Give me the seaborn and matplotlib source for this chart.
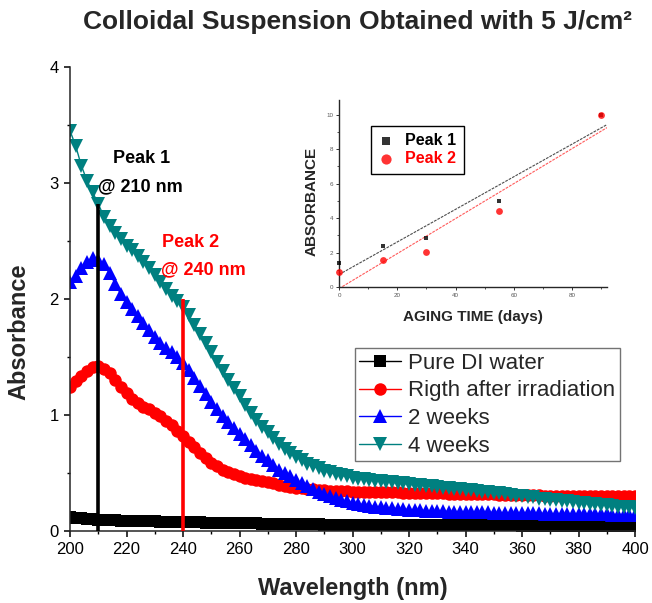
import numpy as np
import matplotlib
matplotlib.use("Agg")
import matplotlib.pyplot as plt
import seaborn as sns
from matplotlib.ticker import MultipleLocator

# ---------------- data ----------------
wavelength = np.arange(200, 401, 2)

di_water = [
    0.12, 0.115, 0.11, 0.105, 0.10, 0.098, 0.096, 0.094, 0.092, 0.09,
    0.088, 0.086, 0.085, 0.084, 0.083, 0.082, 0.081, 0.08, 0.079, 0.078,
    0.077, 0.076, 0.075, 0.074, 0.073, 0.072, 0.071, 0.07, 0.07, 0.069,
    0.068, 0.067, 0.066, 0.065, 0.064, 0.063, 0.062, 0.061, 0.06, 0.06,
    0.059, 0.058, 0.058, 0.057, 0.057, 0.056, 0.056, 0.055, 0.055, 0.054,
    0.054, 0.053, 0.053, 0.053, 0.052, 0.052, 0.052, 0.051, 0.051, 0.051,
    0.05, 0.05, 0.05, 0.05, 0.05, 0.049, 0.049, 0.049, 0.049, 0.049,
    0.048, 0.048, 0.048, 0.048, 0.048, 0.048, 0.048, 0.048, 0.048, 0.048,
    0.047, 0.047, 0.047, 0.047, 0.047, 0.047, 0.047, 0.047, 0.047, 0.047,
    0.046, 0.046, 0.046, 0.046, 0.046, 0.046, 0.046, 0.046, 0.046, 0.046,
    0.045,
]

after_irradiation = [
    1.24, 1.29, 1.34, 1.38, 1.41, 1.42, 1.40, 1.36, 1.30, 1.24,
    1.19, 1.14, 1.10, 1.07, 1.05, 1.02, 0.99, 0.95, 0.91, 0.86,
    0.82, 0.77, 0.72, 0.67, 0.63, 0.59, 0.56, 0.53, 0.51, 0.49,
    0.475, 0.46, 0.45, 0.44, 0.43, 0.42, 0.41, 0.40, 0.39, 0.38,
    0.375, 0.37, 0.365, 0.36, 0.355, 0.35, 0.348, 0.346, 0.344, 0.342,
    0.34, 0.339, 0.338, 0.337, 0.336, 0.335, 0.334, 0.333, 0.332, 0.331,
    0.33, 0.329, 0.328, 0.327, 0.326, 0.325, 0.324, 0.323, 0.322, 0.321,
    0.32, 0.319, 0.318, 0.317, 0.316, 0.315, 0.314, 0.313, 0.312, 0.311,
    0.31, 0.309, 0.308, 0.307, 0.306, 0.305, 0.304, 0.303, 0.302, 0.301,
    0.30, 0.30, 0.30, 0.30, 0.30, 0.30, 0.30, 0.30, 0.30, 0.30,
    0.30,
]

two_weeks = [
    2.15, 2.20, 2.27, 2.32, 2.35, 2.34, 2.30, 2.22, 2.13, 2.04,
    1.97, 1.91, 1.85, 1.79, 1.73, 1.67, 1.62, 1.58, 1.54, 1.50,
    1.45, 1.39, 1.32, 1.25, 1.18, 1.11, 1.05, 0.99, 0.94, 0.89,
    0.84, 0.79, 0.74, 0.69, 0.65, 0.61, 0.57, 0.53, 0.50, 0.47,
    0.44, 0.41, 0.385, 0.36, 0.34, 0.32, 0.30, 0.285, 0.27, 0.255,
    0.245, 0.235, 0.225, 0.218, 0.21, 0.205, 0.20, 0.195, 0.19, 0.187,
    0.184, 0.181, 0.178, 0.176, 0.174, 0.172, 0.17, 0.168, 0.166, 0.165,
    0.164, 0.163, 0.162, 0.161, 0.16, 0.159, 0.158, 0.157, 0.156, 0.155,
    0.154, 0.153, 0.152, 0.151, 0.15, 0.149, 0.148, 0.147, 0.146, 0.146,
    0.145, 0.145, 0.144, 0.144, 0.143, 0.143, 0.142, 0.142, 0.141, 0.141,
    0.14,
]

four_weeks = [
    3.45, 3.32, 3.15, 3.02, 2.92, 2.82, 2.71, 2.63, 2.57, 2.52,
    2.46, 2.42, 2.37, 2.32, 2.27, 2.21, 2.15, 2.09, 2.03, 1.98,
    1.93, 1.86, 1.78, 1.70, 1.62, 1.54, 1.46, 1.38, 1.30, 1.23,
    1.16, 1.09, 1.02, 0.96, 0.90, 0.85, 0.80, 0.75, 0.71, 0.67,
    0.64, 0.61, 0.58, 0.56, 0.54, 0.52, 0.505, 0.49, 0.48, 0.47,
    0.46, 0.45, 0.445, 0.44, 0.435, 0.43, 0.425, 0.42, 0.415, 0.41,
    0.405, 0.40, 0.395, 0.39, 0.385, 0.38, 0.375, 0.37, 0.365, 0.36,
    0.355, 0.35, 0.345, 0.34, 0.335, 0.33, 0.325, 0.32, 0.31, 0.305,
    0.30, 0.295, 0.29, 0.28, 0.275, 0.27, 0.265, 0.26, 0.255, 0.25,
    0.245, 0.24, 0.235, 0.23, 0.225, 0.22, 0.215, 0.21, 0.21, 0.205,
    0.20,
]

series_names = ["Pure DI water", "Rigth after irradiation", "2 weeks", "4 weeks"]
series_values = [di_water, after_irradiation, two_weeks, four_weeks]
series_colors = ["#000000", "#ff0000", "#0000ff", "#008080"]
series_markers = ["s", "o", "^", "v"]

peak_wavelengths = [210, 240]
peak_heights = [2.82, 2.0]
peak_colors = ["black", "red"]
peak_titles = ["Peak 1", "Peak 2"]
peak_subtitles = ["@ 210 nm", "@ 240 nm"]

aging_days = [0, 15, 30, 55, 90]
peak1_abs = [1.37, 2.39, 2.82, 5.0, 10.0]
peak2_abs = [0.85, 1.57, 2.01, 4.4, 10.0]

# ---------------- style ----------------
sns.set_style("ticks")
plt.rcParams["font.family"] = ["Liberation Sans", "DejaVu Sans"]
plt.rcParams["axes.linewidth"] = 1.1

fig = plt.figure(figsize=(6.52, 6.03), dpi=100)
ax = fig.add_axes([0.1074, 0.1194, 0.8666, 0.7695])

marker_sizes = {"s": 8.5, "o": 9, "^": 10, "v": 10}
for name, vals, col, mk in zip(series_names, series_values, series_colors, series_markers):
    sns.lineplot(x=wavelength, y=vals, color=col, marker=mk, markersize=marker_sizes[mk],
                 markeredgewidth=0, linewidth=1.0, label=name, ax=ax,
                 estimator=None, sort=False)

for wl, h, c in zip(peak_wavelengths, peak_heights, peak_colors):
    ax.vlines(wl, 0, h, color=c, lw=2.6, zorder=5)

ax.text(215.2, 3.21, peak_titles[0], color="black", fontsize=13, fontweight="bold",
        ha="left", va="center")
ax.text(209.9, 2.97, peak_subtitles[0], color="black", fontsize=13, fontweight="bold",
        ha="left", va="center")
ax.text(232.6, 2.49, peak_titles[1], color="red", fontsize=13, fontweight="bold",
        ha="left", va="center")
ax.text(232.2, 2.25, peak_subtitles[1], color="red", fontsize=13, fontweight="bold",
        ha="left", va="center")

ax.set_xlim(200, 400)
ax.set_ylim(0, 4)
ax.xaxis.set_major_locator(MultipleLocator(20))
ax.xaxis.set_minor_locator(MultipleLocator(10))
ax.yaxis.set_major_locator(MultipleLocator(1))
ax.yaxis.set_minor_locator(MultipleLocator(0.5))
ax.tick_params(which="major", direction="out", length=4.5, width=1.1, labelsize=12,
               color="black", labelcolor="black")
ax.tick_params(which="minor", direction="out", length=2.5, width=1.0, color="black")
sns.despine(ax=ax)

ax.set_xlabel("Wavelength (nm)", fontsize=17, fontweight="bold")
ax.set_ylabel("Absorbance", fontsize=17, fontweight="bold")
ax.xaxis.set_label_coords(0.5, -0.123)
ax.xaxis.label.set_va("center")
ax.yaxis.set_label_coords(-0.091, 0.43)
ax.yaxis.label.set_va("center")

handles, labels = ax.get_legend_handles_labels()
leg = ax.legend(handles, labels, loc="upper left", bbox_to_anchor=(0.504, 0.394),
                borderaxespad=0, fontsize=16, frameon=True, fancybox=False,
                edgecolor="0.45", framealpha=1, labelspacing=0.3, borderpad=0.2,
                handlelength=1.9, handletextpad=0.3, markerscale=1.0)
leg.get_frame().set_linewidth(1.0)

fig.text(0.548, 0.963, "Colloidal Suspension Obtained with 5 J/cm²", ha="center",
         va="center", fontsize=19, fontweight="bold")

# ---------------- inset ----------------
ax_in = fig.add_axes([0.52, 0.524, 0.411, 0.31])
ax_in.set_xlim(0, 92)
ax_in.set_ylim(0, 10.84)
sns.regplot(x=aging_days, y=peak1_abs, ax=ax_in, ci=None, truncate=False,
            marker="s", color="black", label="Peak 1",
            scatter_kws={"s": 12, "linewidths": 0, "clip_on": False, "zorder": 4},
            line_kws={"color": "0.3", "lw": 0.8, "ls": (0, (2.5, 1))})
sns.regplot(x=aging_days, y=peak2_abs, ax=ax_in, ci=None, truncate=False,
            marker="o", color="red", label="Peak 2",
            scatter_kws={"s": 24, "linewidths": 0, "clip_on": False, "zorder": 5},
            line_kws={"color": "#ff5a5a", "lw": 0.8, "ls": (0, (2.5, 1))})
ax_in.set_xlim(0, 92)
ax_in.set_ylim(0, 10.84)
ax_in.xaxis.set_major_locator(MultipleLocator(20))
ax_in.xaxis.set_minor_locator(MultipleLocator(10))
ax_in.yaxis.set_major_locator(MultipleLocator(2))
ax_in.yaxis.set_minor_locator(MultipleLocator(1))
ax_in.tick_params(which="major", direction="out", length=2.5, width=0.7, labelsize=4.5,
                  labelcolor="0.35", color="0.2", pad=1.5)
ax_in.tick_params(which="minor", direction="out", length=1.5, width=0.6, color="0.2")
for s in ("left", "bottom"):
    ax_in.spines[s].set_linewidth(1.0)
sns.despine(ax=ax_in)
ax_in.set_facecolor("none")
ax_in.set_xlabel("AGING TIME (days)", fontsize=11, fontweight="bold")
ax_in.set_ylabel("ABSORBANCE", fontsize=11, fontweight="bold")
ax_in.xaxis.set_label_coords(0.5, -0.159)
ax_in.xaxis.label.set_va("center")
ax_in.yaxis.set_label_coords(-0.102, 0.456)
ax_in.yaxis.label.set_va("center")

ileg = ax_in.legend(loc="upper left", bbox_to_anchor=(0.119, 0.861), borderaxespad=0,
                    prop={"weight": "bold", "size": 11.5}, labelcolor=["black", "red"],
                    frameon=True, fancybox=False, edgecolor="black", framealpha=1,
                    handlelength=1.0, handletextpad=0.7, borderpad=0.45,
                    labelspacing=0.2, markerscale=1.5)
ileg.get_frame().set_linewidth(1.0)

fig.savefig("out.png", dpi=100)
